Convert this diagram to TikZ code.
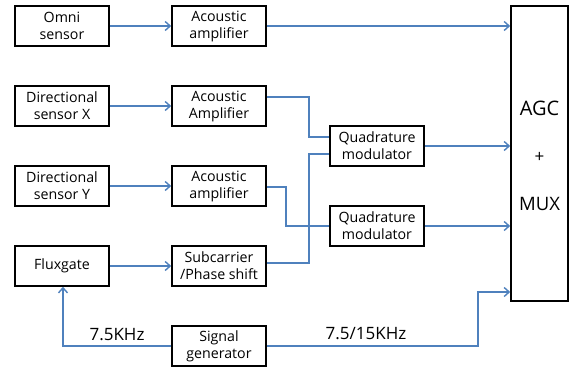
\documentclass[tikz,border=0pt]{standalone}
\usepackage{fontspec}
\setmainfont{Open Sans}
\usetikzlibrary{arrows.meta}
\definecolor{lineblue}{RGB}{79,129,189}
\begin{document}
\begin{tikzpicture}[x=1pt,y=-1pt,
  blk/.style={draw=black,line width=1.6pt,fill=white,minimum width=94pt,minimum height=40pt,inner sep=0pt,align=center,font=\fontsize{14.2}{17}\selectfont},
  qblk/.style={blk,font=\fontsize{14.2}{17}\selectfont},
  wire/.style={draw=lineblue,line width=1.6pt},
  arr/.style={wire,-{Straight Barb[length=5pt,width=9pt,line width=1.4pt]}},
  lbl/.style={font=\fontsize{17}{20}\selectfont,inner sep=0pt}]
\useasboundingbox (0,0) rectangle (571,369);
% nodes
\node[blk] (omni) at (62,26) {Omni\\sensor};
\node[blk] (ac1) at (219,26) {Acoustic\\amplifier};
\node[blk] (dx) at (62,106) {Directional\\sensor X};
\node[blk] (ac2) at (219,106) {Acoustic\\Amplifier};
\node[blk] (dy) at (62,186) {Directional\\sensor Y};
\node[blk] (ac3) at (219,186) {Acoustic\\amplifier};
\node[blk] (flux) at (62,266) {Fluxgate};
\node[blk] (sub) at (219,266) {Subcarrier\\/Phase shift};
\node[blk] (sig) at (219,346) {Signal\\generator};
\node[qblk] (qm1) at (377,146) {Quadrature\\modulator};
\node[qblk] (qm2) at (377,226) {Quadrature\\modulator};
\node[draw=black,line width=1.6pt,fill=white,minimum width=57pt,minimum height=295pt,inner sep=0pt] (agc) at (539.5,153.5) {};
\node[font=\fontsize{20}{24}\selectfont] (agct) at (539.5,108) {AGC};
\node[font=\fontsize{17}{20}\selectfont] (plus) at (539.5,157) {+};
\node[font=\fontsize{18.5}{22}\selectfont] (mux) at (539.5,204) {MUX};
% connectors
\coordinate (agcin1) at (agc.west |- 0,26);
\coordinate (agcin2) at (agc.west |- 0,146);
\coordinate (agcin3) at (agc.west |- 0,226);
\coordinate (agcin4) at (agc.west |- 0,292);
\draw[arr] (omni.east) -- (ac1.west);
\draw[arr] (ac1.east) -- (agcin1);
\draw[arr] (dx.east) -- (ac2.west);
\draw[arr] (dy.east) -- (ac3.west);
\draw[arr] (flux.east) -- (sub.west);
\draw[wire] (ac2.east |- 0,97) -- (309,97) -- (309,137) -- (qm1.west |- 0,137);
\draw[wire] (sub.east |- 0,263) -- (309,263) -- (309,154) -- (qm1.west |- 0,154);
\draw[wire] (ac3.east |- 0,187) -- (286,187) -- (286,226) -- (qm2.west);
\draw[arr] (qm1.east) -- (agcin2);
\draw[arr] (qm2.east) -- (agcin3);
\draw[arr] (sig.west) -- (63,346) -- (flux.south -| 63,0);
\draw[arr] (sig.east) -- (478,346) -- (478,292) -- (agcin4);
\node[lbl] (l1) at (117,335) {7.5KHz};
\node[lbl] (l2) at (366,334) {7.5/15KHz};
\end{tikzpicture}
\end{document}
